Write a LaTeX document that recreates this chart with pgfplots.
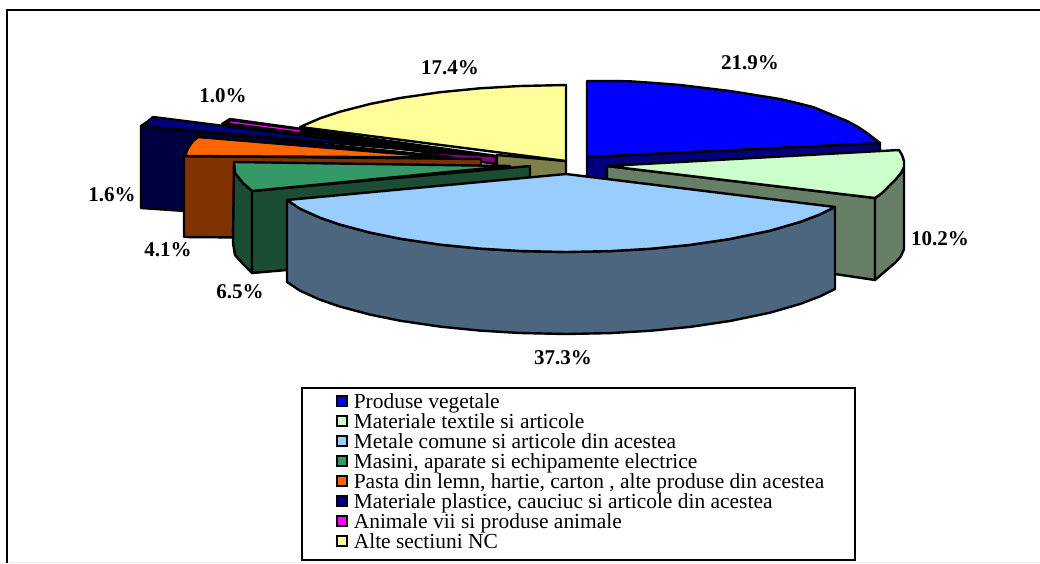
\documentclass[border=0pt]{standalone}
\usepackage{pgfplots}
\usepackage{fontspec}
\setmainfont{Liberation Serif}
\pgfplotsset{compat=1.18}
\definecolor{cBlue}{HTML}{0000FF}\definecolor{cBlueS}{HTML}{00007F}
\definecolor{cMint}{HTML}{CCFFCC}\definecolor{cMintS}{HTML}{667F66}
\definecolor{cSky}{HTML}{99CCFF}\definecolor{cSkyS}{HTML}{4C667F}
\definecolor{cGreen}{HTML}{339966}\definecolor{cGreenS}{HTML}{1A4D33}
\definecolor{cOrange}{HTML}{FF6600}\definecolor{cOrangeS}{HTML}{803300}
\definecolor{cNavy}{HTML}{000080}\definecolor{cNavyS}{HTML}{000040}
\definecolor{cMag}{HTML}{FF00FF}\definecolor{cMagS}{HTML}{800080}
\definecolor{cYel}{HTML}{FFFF99}\definecolor{cYelS}{HTML}{7F7F4C}
\pgfplotsset{
 slice/.style={draw=black,line width=2.4pt,line join=round,fill=#1,forget plot},
 swatch/.style={legend image code/.code={\path (-34pt,0pt); \path (16pt,0pt); \draw[draw=black,line width=1.8pt,fill=#1] (0pt,-2pt) rectangle (10pt,8pt);}},
}
\tikzset{val/.style={font=\fontsize{21}{22}\selectfont\bfseries,anchor=center}}
\begin{document}
\begin{tikzpicture}
\begin{axis}[
 width=1040pt,height=563pt,scale only axis,
 xmin=0,xmax=1040,ymin=0,ymax=563,y dir=reverse,
 hide axis,
 legend style={at={(axis cs:300.5,387)},anchor=north west,draw=black,line width=2.2pt,fill=white,
   font=\fontsize{21.45}{20}\selectfont,inner xsep=0pt,inner ysep=6pt,
   nodes={inner sep=0pt,text height=14pt,text depth=6pt,anchor=west},
   row sep=0pt},
 legend cell align=left,
]
% frame
\addplot[black,line width=2.6pt,forget plot] coordinates {(7,563) (7,10) (1040,10)};
\addplot[black!8,line width=1pt,forget plot] coordinates {(9,562.5) (1040,562.5)};
% yellow side + top
\addplot[slice=cYelS] coordinates {(497,155) (566,161) (566,180) (497,180)} --cycle;
\addplot[slice=cYel] coordinates {(566,85) (520,86) (480,88.3) (440,92.2) (400,98) (370,104) (340,111.7) (320,118.3) (300,127) (566,161)} --cycle;
% magenta slice
\addplot[slice=cMagS] coordinates {(425,149) (496,156.5) (496,164) (425,154)} --cycle;
\addplot[slice=black] coordinates {(230,119) (222,124) (425,152) (497,156)} --cycle;
\addplot[cMag,line width=1.2pt,forget plot] coordinates {(230,122) (300,131)};
% navy slice
\addplot[slice=cNavyS] coordinates {(141,126) (450,157) (450,162) (200,212) (141,208)} --cycle;
\addplot[slice=cNavy] coordinates {(153,117) (147,122) (141,126) (423,151)} --cycle;
% orange slice
\addplot[slice=cOrangeS] coordinates {(184,156) (481,159) (481,165) (300,238) (184,237)} --cycle;
\addplot[slice=cOrange] coordinates {(198,137) (193,141) (188,148) (185,156) (445,157.5)} --cycle;
% green slice
\addplot[slice=cGreenS] coordinates {(234,162) (233,243) (235,255) (243,264) (252,273) (252,191) (243,183) (235,173)} --cycle;
\addplot[slice=cGreenS] coordinates {(252,191) (530,166) (530,185) (287,270) (252,273)} --cycle;
\addplot[slice=cGreen] coordinates {(234,162) (510,166) (252,191) (243,183) (235,173)} --cycle;
% blue slice
\addplot[slice=cBlueS] coordinates {(587,157) (880,143) (880,152) (587,180)} --cycle;
\addplot[slice=cBlue] coordinates {(587,81) (610,81) (630,81.3) (655,83) (680,85) (705,88) (730,91) (755,95) (780,99) (797,103) (813,107) (830,114) (847,121) (858,127) (867,133) (880,143) (587,157)} --cycle;
% mint slice
\addplot[slice=cMintS] coordinates {(607,166) (875,198) (875,280) (607,240)} --cycle;
\addplot[slice=cMintS] coordinates {(875,198) (882,193) (889,186) (896,179) (901,173) (904,167) (904,249) (901,256) (896,262) (889,268) (882,274) (875,280)} --cycle;
\addplot[slice=cMint] coordinates {(607,166) (899,150) (902,155) (904,161) (904,167) (901,173) (896,179) (889,186) (882,193) (875,198)} --cycle;
% sky slice
\addplot[slice=cSkyS] coordinates {(287,200) (300,208.7) (320,217.7) (340,224.6) (370,232.6) (400,238.7) (440,244.6) (480,248.6) (520,251) (566,252) (610,251.1) (650,248.8) (690,244.9) (730,239) (770,230.7) (800,222) (820,214.4) (835,207) (835,289) (820,296.4) (800,304) (770,312.7) (730,321) (690,326.9) (650,330.8) (610,333.1) (566,334) (520,333) (480,330.6) (440,326.6) (400,320.7) (370,314.6) (340,306.6) (320,299.7) (300,290.7) (287,282)} --cycle;
\addplot[slice=cSky] coordinates {(566,174) (835,207) (820,214.4) (800,222) (770,230.7) (730,239) (690,244.9) (650,248.8) (610,251.1) (566,252) (520,251) (480,248.6) (440,244.6) (400,238.7) (370,232.6) (340,224.6) (320,217.7) (300,208.7) (287,200)} --cycle;
% value labels
\node[val] at (axis cs:750,63) {21.9\%};
\node[val] at (axis cs:450,68) {17.4\%};
\node[val] at (axis cs:223,96) {1.0\%};
\node[val] at (axis cs:112,195) {1.6\%};
\node[val] at (axis cs:168,250) {4.1\%};
\node[val] at (axis cs:240,292) {6.5\%};
\node[val] at (axis cs:563,358) {37.3\%};
\node[val] at (axis cs:940,239) {10.2\%};
% legend
\addlegendimage{swatch={cBlue}}\addlegendentry{Produse vegetale}
\addlegendimage{swatch={cMint}}\addlegendentry{Materiale textile si articole}
\addlegendimage{swatch={cSky}}\addlegendentry{Metale comune si articole din acestea}
\addlegendimage{swatch={cGreen}}\addlegendentry{Masini, aparate si echipamente electrice}
\addlegendimage{swatch={cOrange}}\addlegendentry{Pasta din lemn, hartie, carton , alte produse din acestea\hspace*{31pt}}
\addlegendimage{swatch={cNavy}}\addlegendentry{Materiale plastice, cauciuc si articole din acestea}
\addlegendimage{swatch={cMag}}\addlegendentry{Animale vii si produse animale}
\addlegendimage{swatch={cYel}}\addlegendentry{Alte sectiuni NC}
\end{axis}
\pgfresetboundingbox
\path[use as bounding box] (0,0) rectangle (1040pt,563pt);
\end{tikzpicture}
\end{document}
